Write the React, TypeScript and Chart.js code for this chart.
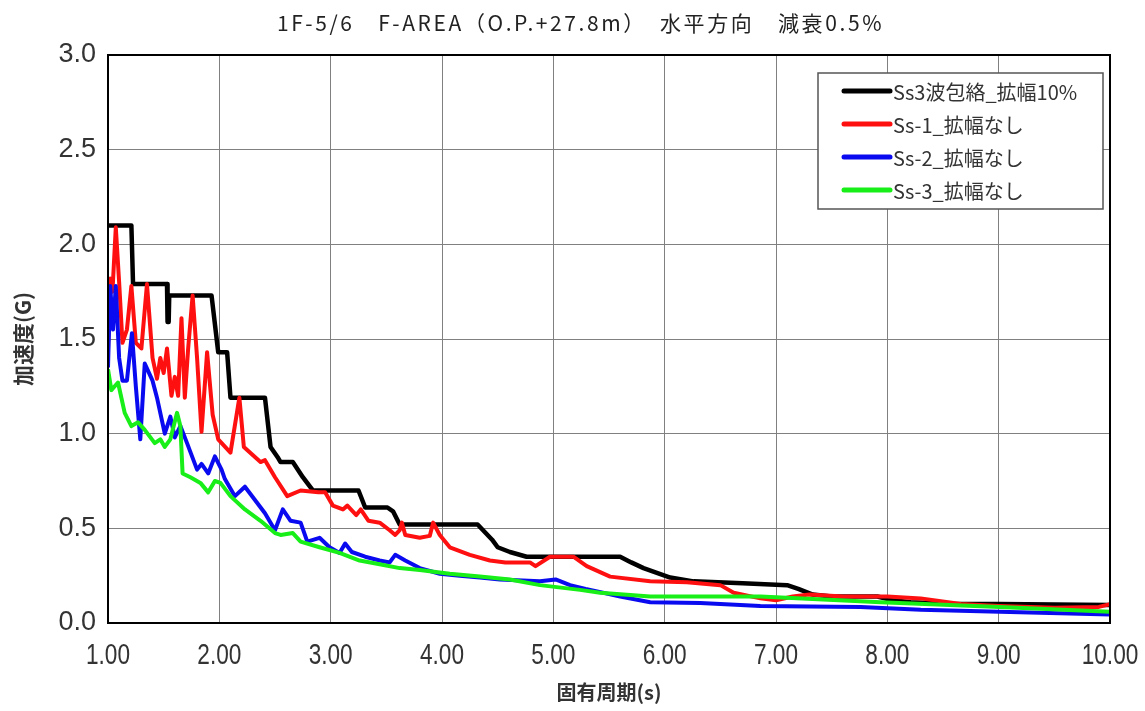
import React, { useEffect, useRef } from "react";
import { Chart, registerables } from "chart.js";

Chart.register(...registerables);

const titleText = "1F-5/6　F-AREA（O.P.+27.8m）　水平方向　減衰0.5%";
const xTitle = "固有周期(s)";
const yTitle = "加速度(G)";

const seriesLabels = ["Ss3波包絡_拡幅10%", "Ss-1_拡幅なし", "Ss-2_拡幅なし", "Ss-3_拡幅なし"];
const seriesColors = ["#000000", "#ff1010", "#0a0af0", "#18ee18"];

const xTickValues = [1, 2, 3, 4, 5, 6, 7, 8, 9, 10];
const xTickLabels = ["1.00", "2.00", "3.00", "4.00", "5.00", "6.00", "7.00", "8.00", "9.00", "10.00"];
const yTickValues = [0, 0.5, 1.0, 1.5, 2.0, 2.5, 3.0];

// Ss3 envelope (broadened 10%)
const envT = [
  1.0, 1.21, 1.225, 1.53, 1.535, 1.545, 1.55, 1.93, 1.99, 2.07,
  2.1, 2.41, 2.46, 2.53, 2.55, 2.66, 2.75, 2.84, 3.25, 3.31,
  3.51, 3.56, 3.62, 4.32, 4.45, 4.5, 4.61, 4.76, 5.6, 5.7,
  5.81, 6.05, 6.26, 6.7, 7.1, 7.2, 7.33, 7.5, 7.91, 8.05,
  8.21, 8.6, 9.0, 10.0,
];
const envG = [
  2.1, 2.1, 1.79, 1.79, 1.59, 1.59, 1.73, 1.73, 1.43, 1.43,
  1.19, 1.19, 0.93, 0.87, 0.85, 0.85, 0.77, 0.7, 0.7, 0.61,
  0.61, 0.59, 0.52, 0.52, 0.44, 0.4, 0.375, 0.35, 0.35, 0.32,
  0.29, 0.24, 0.22, 0.21, 0.2, 0.18, 0.15, 0.14, 0.14, 0.12,
  0.11, 0.1, 0.1, 0.095,
];

// Ss-1
const ss1T = [
  1.0, 1.02, 1.04, 1.07, 1.1, 1.13, 1.17, 1.21, 1.25, 1.3,
  1.35, 1.4, 1.44, 1.47, 1.5, 1.53, 1.57, 1.6, 1.63, 1.66,
  1.69, 1.72, 1.76, 1.8, 1.84, 1.89, 1.94, 1.99, 2.1, 2.18,
  2.22, 2.37, 2.41, 2.5, 2.61, 2.73, 2.89, 2.95, 3.02, 3.11,
  3.15, 3.23, 3.27, 3.34, 3.44, 3.53, 3.58, 3.62, 3.64, 3.67,
  3.8, 3.89, 3.92, 3.98, 4.07, 4.25, 4.43, 4.57, 4.79, 4.84,
  4.97, 5.18, 5.3, 5.51, 5.87, 6.2, 6.5, 6.62, 6.86, 7.0,
  7.15, 7.3, 7.6, 8.0, 8.3, 8.66, 9.0, 9.5, 9.9, 10.0,
];
const ss1G = [
  1.45, 1.82, 1.75, 2.09, 1.8, 1.48, 1.55, 1.78, 1.48, 1.45,
  1.79, 1.4, 1.29, 1.4, 1.32, 1.45, 1.2, 1.3, 1.2, 1.61,
  1.19, 1.45, 1.73, 1.4, 1.01, 1.43, 1.1, 0.97, 0.9, 1.19,
  0.93, 0.85, 0.86, 0.77, 0.67, 0.7, 0.69, 0.69, 0.62, 0.6,
  0.62, 0.57, 0.6, 0.54, 0.53, 0.49, 0.465, 0.49, 0.53, 0.465,
  0.45, 0.46, 0.53, 0.465, 0.4, 0.36, 0.33, 0.32, 0.32, 0.3,
  0.35, 0.35, 0.3, 0.245, 0.22, 0.215, 0.2, 0.16, 0.13, 0.12,
  0.14, 0.15, 0.14, 0.14, 0.13, 0.1, 0.09, 0.08, 0.085, 0.1,
];

// Ss-2
const ss2T = [
  1.0, 1.02, 1.045, 1.07, 1.1, 1.13, 1.17, 1.215, 1.25, 1.29,
  1.33, 1.4, 1.44, 1.51, 1.56, 1.6, 1.65, 1.71, 1.8, 1.84,
  1.9, 1.96, 2.02, 2.05, 2.14, 2.23, 2.32, 2.41, 2.5, 2.57,
  2.64, 2.73, 2.79, 2.9, 2.99, 3.08, 3.13, 3.19, 3.31, 3.44,
  3.53, 3.58, 3.67, 3.8, 3.98, 4.16, 4.34, 4.52, 4.88, 5.02,
  5.15, 5.29, 5.6, 5.87, 6.32, 6.86, 7.76, 8.3, 9.01, 10.0,
];
const ss2G = [
  1.35, 1.78, 1.55, 1.78, 1.4, 1.28, 1.28, 1.53, 1.25, 0.97,
  1.37, 1.28, 1.19, 1.0, 1.09, 0.98, 1.04, 0.95, 0.81, 0.84,
  0.79, 0.88, 0.81, 0.76, 0.67, 0.72, 0.65, 0.58, 0.49, 0.6,
  0.54, 0.53, 0.43, 0.45, 0.4, 0.37, 0.42, 0.375, 0.35, 0.33,
  0.32, 0.36, 0.33, 0.29, 0.26, 0.25, 0.24, 0.23, 0.22, 0.23,
  0.2, 0.18, 0.14, 0.11, 0.105, 0.09, 0.085, 0.07, 0.06, 0.045,
];

// Ss-3
const ss3T = [
  1.0, 1.03, 1.09, 1.15, 1.21, 1.27, 1.33, 1.42, 1.47, 1.51,
  1.56, 1.62, 1.65, 1.67, 1.74, 1.83, 1.9, 1.96, 2.01, 2.1,
  2.23, 2.37, 2.5, 2.55, 2.66, 2.73, 2.9, 3.08, 3.26, 3.44,
  3.62, 3.8, 4.07, 4.34, 4.61, 4.88, 5.24, 5.42, 5.87, 6.86,
  7.94, 9.01, 10.0,
];
const ss3G = [
  1.34, 1.23, 1.27, 1.11, 1.04, 1.06, 1.02, 0.95, 0.97, 0.93,
  0.97, 1.11, 1.04, 0.79, 0.77, 0.74, 0.69, 0.75, 0.74, 0.67,
  0.6, 0.54, 0.475, 0.465, 0.475, 0.43, 0.4, 0.37, 0.33, 0.31,
  0.29, 0.28, 0.26, 0.245, 0.23, 0.2, 0.175, 0.16, 0.14, 0.14,
  0.11, 0.085, 0.06,
];

const seriesT = [envT, ss1T, ss2T, ss3T];
const seriesG = [envG, ss1G, ss2G, ss3G];

const CJK = '"Noto Sans CJK JP", "Noto Sans", sans-serif';
const LAT = '"Liberation Sans", Arial, sans-serif';

const decorPlugin = {
  id: "decor",
  afterDraw(chart: any) {
    const { ctx, chartArea } = chart;
    ctx.save();
    // plot frame
    ctx.strokeStyle = "#000";
    ctx.lineWidth = 2;
    ctx.strokeRect(chartArea.left, chartArea.top, chartArea.right - chartArea.left, chartArea.bottom - chartArea.top);

    // title
    ctx.fillStyle = "#222";
    ctx.font = `21px ${CJK}`;
    (ctx as any).letterSpacing = "2.6px";
    ctx.textAlign = "center";
    ctx.textBaseline = "middle";
    ctx.fillText(titleText, chart.width / 2 + 8, 23);
    (ctx as any).letterSpacing = "0px";

    // x tick labels (condensed look)
    const xs = chart.scales.x;
    ctx.font = `29px ${LAT}`;
    ctx.fillStyle = "#333";
    xTickValues.forEach((v, i) => {
      const px = xs.getPixelForValue(v);
      ctx.save();
      ctx.translate(px, chartArea.bottom + 33);
      ctx.scale(0.78, 1);
      ctx.fillText(xTickLabels[i], 0, 0);
      ctx.restore();
    });

    // legend box
    const x0 = chartArea.right - 292;
    const y0 = chartArea.top + 18;
    const w = 285;
    const h = 136;
    ctx.fillStyle = "#fff";
    ctx.fillRect(x0, y0, w, h);
    ctx.strokeStyle = "#555";
    ctx.lineWidth = 1.5;
    ctx.strokeRect(x0, y0, w, h);
    ctx.font = `20px ${CJK}`;
    ctx.textBaseline = "middle";
    ctx.textAlign = "left";
    seriesLabels.forEach((lab, i) => {
      const y = y0 + 18 + i * 33;
      ctx.strokeStyle = seriesColors[i];
      ctx.lineWidth = 5;
      ctx.lineCap = "round";
      ctx.beginPath();
      ctx.moveTo(x0 + 26, y);
      ctx.lineTo(x0 + 72, y);
      ctx.stroke();
      ctx.fillStyle = "#333";
      ctx.fillText(lab, x0 + 75, y + 1);
    });
    ctx.restore();
  },
};

export default function App() {
  const ref = useRef<HTMLCanvasElement | null>(null);

  useEffect(() => {
    if (!ref.current) return;
    const datasets = seriesLabels.map((label, i) => ({
      label,
      data: seriesT[i].map((t, j) => ({ x: t, y: seriesG[i][j] })),
      borderColor: seriesColors[i],
      backgroundColor: seriesColors[i],
      borderWidth: i === 0 ? 4.5 : 4,
      pointRadius: 0,
      tension: 0,
      fill: false,
      order: 4 - i,
      borderJoinStyle: "round" as const,
    }));
    const chart = new Chart(ref.current, {
      type: "line",
      data: { datasets },
      plugins: [decorPlugin],
      options: {
        responsive: false,
        animation: false,
        layout: { padding: { left: 0, right: 35, top: 55, bottom: 0 } },
        plugins: {
          legend: { display: false },
          tooltip: { enabled: false },
          title: { display: false },
        },
        scales: {
          x: {
            type: "linear",
            min: 1,
            max: 10,
            afterFit: (s: any) => {
              s.height = 88;
              s.paddingLeft = 0;
              s.paddingRight = 0;
            },
            afterBuildTicks: (s: any) => {
              s.ticks = xTickValues.map((v) => ({ value: v }));
            },
            ticks: { display: false },
            grid: { color: "#808080", lineWidth: 1, drawTicks: false },
            border: { display: false },
            title: {
              display: true,
              text: xTitle,
              color: "#333",
              font: { family: CJK, size: 20, weight: "bold" },
              padding: { top: 0, bottom: 7 },
            },
          },
          y: {
            type: "linear",
            min: 0,
            max: 3,
            afterFit: (s: any) => {
              s.width = 108;
              s.paddingTop = 0;
              s.paddingBottom = 0;
            },
            afterBuildTicks: (s: any) => {
              s.ticks = yTickValues.map((v) => ({ value: v }));
            },
            ticks: {
              callback: (v: any) => Number(v).toFixed(1),
              color: "#333",
              font: { family: LAT, size: 27 },
              padding: 12,
              autoSkip: false,
            },
            grid: { color: "#808080", lineWidth: 1, drawTicks: false },
            border: { display: false },
            title: {
              display: true,
              text: yTitle,
              color: "#333",
              font: { family: CJK, size: 21, weight: "bold" },
              padding: { top: 10, bottom: 0 },
            },
          },
        },
      },
    });
    return () => chart.destroy();
  }, []);

  return (
    <div style={{ position: "absolute", left: 0, top: 0, width: 1145, height: 711, background: "#fff" }}>
      <canvas ref={ref} width={1145} height={711} />
    </div>
  );
}
